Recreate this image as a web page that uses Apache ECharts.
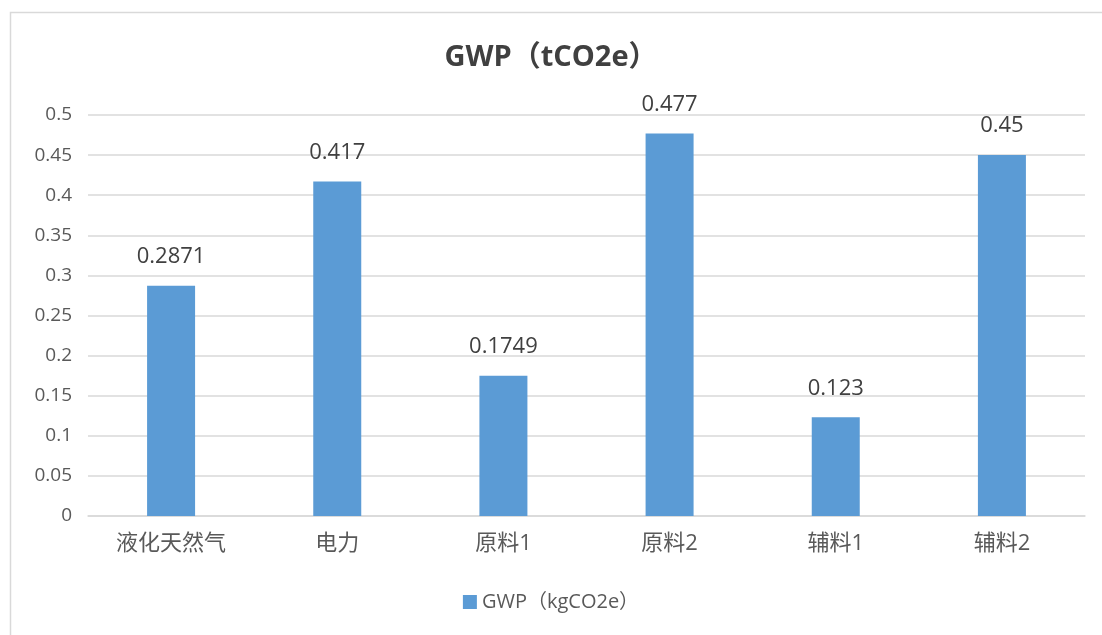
<!DOCTYPE html>
<html>
<head>
<meta charset="utf-8">
<script src="https://cdn.jsdelivr.net/npm/echarts@6/dist/echarts.min.js"></script>
<style>
  html, body { margin: 0; padding: 0; background: #fff; }
  #chart { width: 1102px; height: 635px; }
</style>
</head>
<body>
<div id="chart"></div>
<script>
// 数据
var categories = ["液化天然气", "电力", "原料1", "原料2", "辅料1", "辅料2"];
var gwpValues = [0.2871, 0.417, 0.1749, 0.477, 0.123, 0.45];
var seriesName = "GWP（kgCO2e）";
var titleText = "GWP（tCO2e）";

var fontFamily = "'Open Sans', 'Noto Sans CJK SC', sans-serif";

var myChart = echarts.init(document.getElementById("chart"));
var option = {
  animation: false,
  backgroundColor: "#fff",
  graphic: [
    {
      type: "rect",
      shape: { x: 10.5, y: 12.5, width: 1200, height: 700 },
      style: { fill: "none", stroke: "#d9d9d9", lineWidth: 1.5 },
      silent: true
    }
  ],
  title: {
    text: titleText,
    left: "center",
    top: 38,
    textStyle: {
      color: "#404040",
      fontSize: 29,
      fontWeight: "bold",
      fontFamily: fontFamily
    }
  },
  grid: {
    left: 88,
    right: 17,
    top: 115,
    bottom: 119
  },
  legend: {
    bottom: 18,
    left: "center",
    icon: "rect",
    itemWidth: 14,
    itemHeight: 14,
    itemGap: 10,
    textStyle: {
      color: "#595959",
      fontSize: 20,
      fontFamily: fontFamily
    },
    data: [seriesName]
  },
  xAxis: {
    type: "category",
    data: categories,
    axisLine: { show: true, lineStyle: { color: "#d9d9d9", width: 1.5 } },
    axisTick: { show: false },
    axisLabel: {
      color: "#595959",
      fontSize: 22,
      margin: 17,
      fontFamily: fontFamily
    }
  },
  yAxis: {
    type: "value",
    min: 0,
    max: 0.5,
    interval: 0.05,
    axisLine: { show: false },
    axisTick: { show: false },
    splitLine: { show: true, lineStyle: { color: "#d9d9d9", width: 1.5 } },
    axisLabel: {
      color: "#595959",
      fontSize: 19,
      margin: 16,
      fontFamily: fontFamily,
      formatter: function (v) {
        return String(parseFloat(v.toFixed(2)));
      }
    }
  },
  series: [
    {
      name: seriesName,
      type: "bar",
      data: gwpValues,
      barWidth: 48,
      itemStyle: { color: "#5B9BD5" },
      label: {
        show: true,
        position: "top",
        distance: 18,
        color: "#404040",
        fontSize: 22,
        fontFamily: fontFamily
      }
    }
  ]
};
myChart.setOption(option);
window.addEventListener("resize", function () {
  myChart.resize();
});
</script>
</body>
</html>
